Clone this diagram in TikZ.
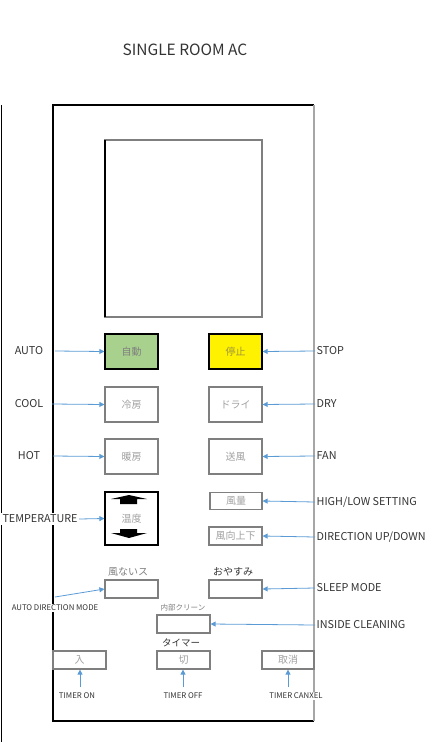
\documentclass[tikz,border=0pt]{standalone}
\usepackage{fontspec}
\setmainfont{Noto Sans CJK JP}
\usetikzlibrary{arrows.meta}
\definecolor{arrblue}{HTML}{5B9BD5}
\definecolor{boxgray}{HTML}{7F7F7F}
\definecolor{btntext}{HTML}{A0A0A0}
\definecolor{lbltext}{HTML}{333333}
\definecolor{autogreen}{HTML}{A9D18E}
\definecolor{edgegray}{HTML}{A6A6A6}
\begin{document}
\begin{tikzpicture}[x=1pt,y=-1pt,
  btn/.style={draw=boxgray, line width=1.2pt, minimum width=53pt, minimum height=35pt, inner sep=0pt, font=\fontsize{10}{12}\selectfont, text=btntext},
  sbtn/.style={btn, minimum height=18pt},
  lbl/.style={fill=white, inner sep=1.5pt, text=lbltext, font=\fontsize{10.8}{12}\selectfont},
  slbl/.style={lbl, font=\fontsize{7.8}{9}\selectfont},
  toplbl/.style={inner sep=0pt, font=\fontsize{10}{12}\selectfont, text=boxgray},
  arr/.style={draw=arrblue, line width=0.8pt, -{Triangle[width=5pt,length=5pt]}}]
\useasboundingbox (0,0) rectangle (432,742);
% title
\node[text=lbltext, font=\fontsize{15.5}{17}\selectfont] (title) at (185,50) {SINGLE ROOM AC};
% left rule
\draw[line width=1pt] (1.5,105) -- (1.5,742);
% remote body
\draw[line width=1.2pt] (314,105) -- (53,105) -- (53,721) -- (314,721);
\draw[line width=1.2pt, draw=edgegray] (314,105) -- (314,721);
% display
\draw[line width=1.2pt, draw=boxgray] (105,140) rectangle (262,317);
\draw[line width=1.2pt] (105,140) -- (105,317);
% buttons
\node[btn, fill=autogreen, draw=black, text=boxgray] (autob) at (131.5,351.5) {自動};
\node[btn, fill=yellow, draw=black, text={rgb,255:red,160;green,150;blue,60}] (stopb) at (235.5,351.5) {停止};
\node[btn] (cool) at (131.5,404.5) {冷房};
\node[btn] (dry) at (235.5,404.5) {ドライ};
\node[btn] (hot) at (131.5,456.5) {暖房};
\node[btn] (fan) at (235.5,456.5) {送風};
\node[btn, draw=black, minimum height=53pt] (temp) at (131.5,518.5) {温度};
\node[sbtn, minimum width=52pt, minimum height=17pt] (vol) at (236,501) {風量};
\node[sbtn] (dir) at (235.5,536) {風向上下};
\node[sbtn] (fnas) at (131.5,589) {};
\node[sbtn] (sleep) at (235.5,589) {};
\node[sbtn] (clean) at (183.5,624) {};
\node[sbtn] (off) at (183.5,660) {切};
\node[sbtn] (on) at (79.5,660) {入};
\node[sbtn, minimum width=52pt] (cancel) at (288,660) {取消};
% temperature arrows
\fill (111,499) -- (129,495) -- (147,499) -- (137,499) -- (137,504) -- (120,504) -- (120,499) -- cycle;
\fill (120,529) -- (137,529) -- (137,533) -- (147,533) -- (129,538) -- (111,533) -- (120,533) -- cycle;
% labels above buttons
\node[toplbl] (fnaslbl) at (128,572) {風ないス};
\node[toplbl, text=lbltext] (sleeplbl) at (233,572) {おやすみ};
\node[toplbl, font=\fontsize{7.5}{9}\selectfont] (cleanlbl) at (183,608) {内部クリーン};
\node[toplbl, font=\fontsize{9.5}{11}\selectfont, text=lbltext] (timerlbl) at (181,643) {タイマー};
% left labels
\node[lbl] (lauto) at (29,351) {AUTO};
\node[lbl] (lcool) at (29,404) {COOL};
\node[lbl] (lhot) at (29,456) {HOT};
\node[lbl] (ltemp) at (40,519) {TEMPERATURE};
\node[slbl] (ladm) at (55,608) {AUTO DIRECTION MODE};
\coordinate (sauto) at (55,351);
\coordinate (scool) at (52,404);
\coordinate (shot) at (53,456);
\coordinate (sadm) at (55,597);
\draw[arr] (sauto) -- (autob.west);
\draw[arr] (scool) -- (cool.west);
\draw[arr] (shot) -- (hot.west);
\draw[arr] (ltemp.east) -- (temp.west);
\draw[arr] (sadm) -- (fnas.west);
% right labels
\node[lbl, anchor=west] (lstop) at (315,351) {STOP};
\node[lbl, anchor=west] (ldry) at (315,404) {DRY};
\node[lbl, anchor=west] (lfan) at (315,456) {FAN};
\node[lbl, anchor=west] (lvol) at (315,502) {HIGH/LOW SETTING};
\node[lbl, anchor=west] (ldir) at (315,537) {DIRECTION UP/DOWN};
\node[lbl, anchor=west] (lsleep) at (315,588) {SLEEP MODE};
\node[lbl, anchor=west] (lclean) at (315,625) {INSIDE CLEANING};
\draw[arr] (lstop.west) -- (stopb.east);
\draw[arr] (ldry.west) -- (dry.east);
\draw[arr] (lfan.west) -- (fan.east);
\draw[arr] (lvol.west) -- (vol.east);
\draw[arr] (ldir.west) -- (dir.east);
\draw[arr] (lsleep.west) -- (sleep.east);
\draw[arr] (lclean.west) -- (clean.east);
% timer labels
\node[slbl] (lon) at (77,696) {TIMER ON};
\node[slbl] (loff) at (183,696) {TIMER OFF};
\node[slbl] (lcancel) at (296,696) {TIMER CANXEL};
\coordinate (son) at (80,687);
\coordinate (soff) at (183,687);
\coordinate (scancel) at (288,687);
\draw[arr] (son) -- (son |- on.south);
\draw[arr] (soff) -- (soff |- off.south);
\draw[arr] (scancel) -- (scancel |- cancel.south);
\end{tikzpicture}
\end{document}
